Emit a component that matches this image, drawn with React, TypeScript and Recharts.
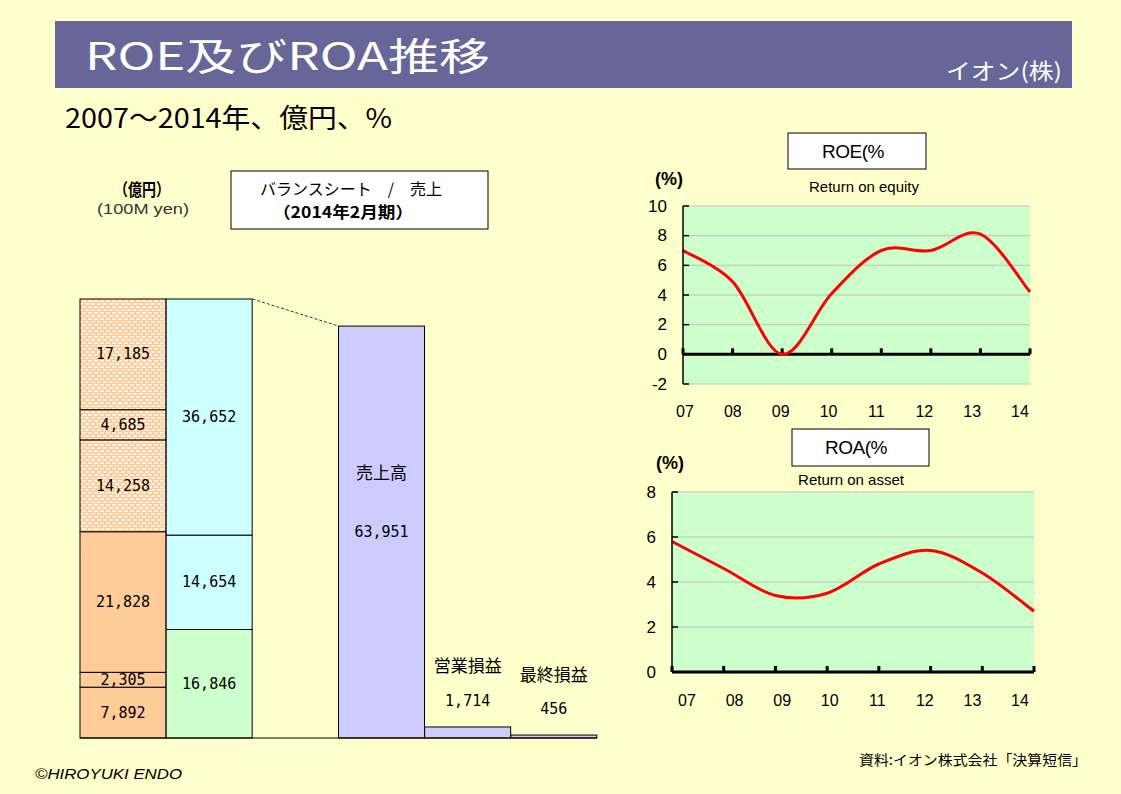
import React from 'react';
import { BarChart, Bar, XAxis, YAxis, LineChart, Line, CartesianGrid, ReferenceLine } from 'recharts';

// ---------- data ----------
const bsCategories = ['資産', '負債・純資産', 'gap', '売上高', '営業損益', '最終損益'];
const assetValues = [7892, 2305, 21828, 14258, 4685, 17185]; // bottom -> top
const assetPatterned = [false, false, false, true, true, true];
const liabilityValues = [16846, 14654, 36652]; // bottom -> top
const liabilityColors = ['#CCFFCC', '#CCFFFF', '#CCFFFF'];
const incomeLabels = ['売上高', '営業損益', '最終損益'];
const incomeValues = [63951, 1714, 456];

const years = ['07', '08', '09', '10', '11', '12', '13', '14'];
const roeValues = [7.0, 4.9, 0.0, 4.1, 7.0, 7.0, 8.1, 4.2];
const roaValues = [5.8, 4.6, 3.4, 3.5, 4.8, 5.4, 4.4, 2.7];
const roeTicks = [-2, 0, 2, 4, 6, 8, 10];
const roaTicks = [0, 2, 4, 6, 8];

const liabTotal = liabilityValues.reduce((s, v) => s + v, 0);

const bsData = bsCategories.map((name, ci) => {
  const row: any = { name };
  if (ci === 0) assetValues.forEach((v, i) => (row[`a${i}`] = v));
  if (ci === 1) liabilityValues.forEach((v, i) => (row[`l${i}`] = v));
  const k = incomeLabels.indexOf(name);
  if (k >= 0) {
    row.income = incomeValues[k];
    row.label = incomeLabels[k];
  }
  return row;
});

const roeData = years.map((year, i) => ({ year, v: roeValues[i] }));
const roaData = years.map((year, i) => ({ year, v: roaValues[i] }));

// ---------- helpers ----------
const JP = '"Noto Sans CJK JP", sans-serif';
const LAT = '"Liberation Sans", Arial, sans-serif';
const MONO = '"DejaVu Sans Mono", monospace';

// Catmull-Rom style smoothing (like spreadsheet "smoothed line")
function smoothCurve(context: any) {
  let pts: number[][] = [];
  return {
    areaStart() {},
    areaEnd() {},
    lineStart() {
      pts = [];
    },
    lineEnd() {
      const n = pts.length;
      if (!n) return;
      context.moveTo(pts[0][0], pts[0][1]);
      for (let i = 0; i < n - 1; i++) {
        const p0 = pts[Math.max(i - 1, 0)];
        const p1 = pts[i];
        const p2 = pts[i + 1];
        const p3 = pts[Math.min(i + 2, n - 1)];
        context.bezierCurveTo(
          p1[0] + (p2[0] - p0[0]) / 6,
          p1[1] + (p2[1] - p0[1]) / 6,
          p2[0] - (p3[0] - p1[0]) / 6,
          p2[1] - (p3[1] - p1[1]) / 6,
          p2[0],
          p2[1]
        );
      }
    },
    point(x: number, y: number) {
      pts.push([+x, +y]);
    },
  };
}

const segmentShape = (key: string, fill: string) => (props: any) => {
  const { x, y, width, height, payload } = props;
  const v = payload ? payload[key] : undefined;
  if (v == null || !width) return <g />;
  return (
    <g>
      <rect x={x} y={y} width={width} height={height} fill={fill} stroke="#000" strokeWidth={1} />
      <text
        x={x + width / 2}
        y={y + height / 2}
        textAnchor="middle"
        dominantBaseline="central"
        fontFamily={MONO}
        fontSize={15}
        fill="#000"
      >
        {v.toLocaleString('en-US')}
      </text>
    </g>
  );
};

const incomeShape = (props: any) => {
  const { x, y, width, height, payload } = props;
  const v = payload ? payload.income : undefined;
  if (v == null || !width) return <g />;
  const cx = x + width / 2;
  const isMain = payload.label === incomeLabels[0];
  const bottom = y + height;
  const yTotal = bottom - liabTotal * (height / v);
  return (
    <g>
      <rect x={x} y={y} width={width} height={height} fill="#CCCCFF" stroke="#000" strokeWidth={1} />
      {isMain ? (
        <g>
          <line x1={x - width} y1={yTotal} x2={x} y2={y} stroke="#333" strokeDasharray="3 2" strokeWidth={1} />
          <text x={cx} y={y + height / 2 - 61} textAnchor="middle" dominantBaseline="central" fontFamily={JP} fontSize={17} fill="#000">
            {payload.label}
          </text>
          <text x={cx} y={y + height / 2} textAnchor="middle" dominantBaseline="central" fontFamily={MONO} fontSize={15} fill="#000">
            {v.toLocaleString('en-US')}
          </text>
        </g>
      ) : (
        <g>
          <text x={cx} y={y - 62} textAnchor="middle" dominantBaseline="central" fontFamily={JP} fontSize={17} fill="#000">
            {payload.label}
          </text>
          <text x={cx} y={y - 26} textAnchor="middle" dominantBaseline="central" fontFamily={MONO} fontSize={15} fill="#000">
            {v.toLocaleString('en-US')}
          </text>
        </g>
      )}
    </g>
  );
};

const YTick = (props: any) => {
  const { x, y, payload } = props;
  return (
    <g>
      <text x={x - 16} y={y} textAnchor="end" dominantBaseline="central" fontFamily={LAT} fontSize={17} fill="#000">
        {payload.value}
      </text>
      <line x1={x} x2={x + 6} y1={y} y2={y} stroke="#000" strokeWidth={1.5} />
    </g>
  );
};

const ZeroTick = (props: any) => {
  const { x1, y1 } = props;
  if (x1 == null || y1 == null) return <g />;
  return <rect x={x1 - 1.5} y={y1 - 6} width={3} height={6} fill="#000" />;
};

function RatioChart(props: {
  data: any[];
  ticks: number[];
  domain: [number, number];
  width: number;
  height: number;
  labelPadding: { left: number; right: number };
  labelMargin: number;
}) {
  const { data, ticks, domain, width, height, labelPadding, labelMargin } = props;
  return (
    <LineChart width={width} height={height} data={data} margin={{ top: 10, right: 5, bottom: 0, left: 0 }}>
      <CartesianGrid vertical={false} stroke="#C0C0C0" fill="#CCFFCC" />
      <XAxis dataKey="year" hide height={0} />
      <XAxis
        xAxisId="lbl"
        dataKey="year"
        padding={labelPadding}
        axisLine={false}
        tickLine={false}
        tickSize={0}
        tickMargin={labelMargin}
        height={40}
        interval={0}
        tick={{ fontSize: 16, fill: '#000', fontFamily: LAT }}
      />
      <YAxis
        width={40}
        domain={domain}
        ticks={ticks}
        interval={0}
        axisLine={{ stroke: '#000', strokeWidth: 1.5 }}
        tickLine={false}
        tickSize={0}
        tickMargin={0}
        tick={<YTick />}
      />
      <ReferenceLine y={0} stroke="#000" strokeWidth={3} />
      {years.map((yr) => (
        <ReferenceLine
          key={yr}
          segment={[
            { x: yr, y: 0 },
            { x: yr, y: 0 },
          ]}
          shape={ZeroTick}
        />
      ))}
      <Line
        dataKey="v"
        stroke="#FF0000"
        strokeWidth={3}
        dot={false}
        activeDot={false}
        type={smoothCurve as any}
        isAnimationActive={false}
      />
    </LineChart>
  );
}

export default function App() {
  return (
    <div
      style={{
        position: 'absolute',
        left: 0,
        top: 0,
        width: 1121,
        height: 794,
        background: '#FFFFCC',
        overflow: 'hidden',
      }}
    >
      <svg width={1121} height={794} style={{ position: 'absolute', left: 0, top: 0 }}>
        <defs>
          <pattern id="dots" width={6} height={6} patternUnits="userSpaceOnUse">
            <rect x={0} y={0} width={6} height={6} fill="#FFCC99" />
            <rect x={0} y={0} width={4} height={2} fill="#FFF2E2" />
            <rect x={3} y={3} width={3} height={2} fill="#FFF2E2" />
            <rect x={0} y={3} width={1} height={2} fill="#FFF2E2" />
          </pattern>
        </defs>
        {/* title bar */}
        <rect x={55} y={21} width={1017} height={67} fill="#666699" />
        <text x={85} y={70} fontFamily={JP} fontSize={38} fill="#fff" textLength={405} lengthAdjust="spacingAndGlyphs">
          ROE及びROA推移
        </text>
        <text x={946} y={79} fontFamily={JP} fontSize={22} fill="#fff" textLength={116} lengthAdjust="spacingAndGlyphs">
          イオン(株)
        </text>
        <text x={65} y={128} fontFamily={JP} fontSize={27} fill="#000" textLength={327} lengthAdjust="spacingAndGlyphs">
          2007～2014年、億円、%
        </text>

        {/* left chart headers */}
        <text x={142} y={188} textAnchor="middle" dominantBaseline="central" fontFamily={JP} fontSize={17} fontWeight="bold" fill="#000" textLength={56} lengthAdjust="spacingAndGlyphs">
          （億円）
        </text>
        <text x={143} y={209} textAnchor="middle" dominantBaseline="central" fontFamily={LAT} fontSize={14} fill="#333" textLength={92} lengthAdjust="spacingAndGlyphs">
          (100M yen)
        </text>
        <rect x={231} y={171} width={257} height={58} fill="#fff" stroke="#000" strokeWidth={1} />
        <text x={351} y={188} textAnchor="middle" dominantBaseline="central" fontFamily={JP} fontSize={16} fill="#000" textLength={182} lengthAdjust="spacingAndGlyphs" style={{ whiteSpace: 'pre' }}>
          {'バランスシート　/　売上'}
        </text>
        <text x={343} y={211} textAnchor="middle" dominantBaseline="central" fontFamily={JP} fontSize={16} fontWeight="bold" fill="#000" textLength={140} lengthAdjust="spacingAndGlyphs">
          （2014年2月期）
        </text>

        {/* ROE headers */}
        <rect x={788} y={133} width={138} height={36} fill="#fff" stroke="#000" strokeWidth={1} />
        <text x={853} y={151} textAnchor="middle" dominantBaseline="central" fontFamily={LAT} fontSize={19} fill="#000" letterSpacing={-0.5}>
          ROE(%
        </text>
        <text x={669} y={179} textAnchor="middle" dominantBaseline="central" fontFamily={LAT} fontSize={18} fontWeight="bold" fill="#000">
          (%)
        </text>
        <text x={864} y={186} textAnchor="middle" dominantBaseline="central" fontFamily={LAT} fontSize={15} fill="#000">
          Return on equity
        </text>

        {/* ROA headers */}
        <rect x={792} y={429} width={137} height={37} fill="#fff" stroke="#000" strokeWidth={1} />
        <text x={856} y={447} textAnchor="middle" dominantBaseline="central" fontFamily={LAT} fontSize={19} fill="#000" letterSpacing={-0.5}>
          ROA(%
        </text>
        <text x={670} y={463} textAnchor="middle" dominantBaseline="central" fontFamily={LAT} fontSize={18} fontWeight="bold" fill="#000">
          (%)
        </text>
        <text x={851} y={479} textAnchor="middle" dominantBaseline="central" fontFamily={LAT} fontSize={15} fill="#000">
          Return on asset
        </text>

        {/* footer */}
        <text x={35} y={773} dominantBaseline="central" fontFamily={LAT} fontSize={15} fontStyle="italic" fill="#000" textLength={147} lengthAdjust="spacingAndGlyphs">
          ©HIROYUKI ENDO
        </text>
        <text x={859} y={759} dominantBaseline="central" fontFamily={JP} fontSize={14} fill="#000" textLength={228} lengthAdjust="spacingAndGlyphs">
          資料:イオン株式会社「決算短信」
        </text>
      </svg>

      {/* balance sheet / sales chart */}
      <div style={{ position: 'absolute', left: 79, top: 297 }}>
        <BarChart
          width={519}
          height={442}
          data={bsData}
          margin={{ top: 2, right: 1, bottom: 0, left: 1 }}
          barCategoryGap={0}
          barGap={0}
        >
          <XAxis dataKey="name" tick={false} tickLine={false} axisLine={{ stroke: '#000' }} height={1} />
          <YAxis hide domain={[0, 'dataMax']} />
          {assetValues.map((_, i) => (
            <Bar
              key={`a${i}`}
              dataKey={`a${i}`}
              stackId="s"
              isAnimationActive={false}
              fill={assetPatterned[i] ? 'url(#dots)' : '#FFCC99'}
              shape={segmentShape(`a${i}`, assetPatterned[i] ? 'url(#dots)' : '#FFCC99')}
            />
          ))}
          {liabilityValues.map((_, i) => (
            <Bar
              key={`l${i}`}
              dataKey={`l${i}`}
              stackId="s"
              isAnimationActive={false}
              fill={liabilityColors[i]}
              shape={segmentShape(`l${i}`, liabilityColors[i])}
            />
          ))}
          <Bar dataKey="income" stackId="s" isAnimationActive={false} fill="#CCCCFF" shape={incomeShape} />
        </BarChart>
      </div>

      {/* ROE chart */}
      <div style={{ position: 'absolute', left: 643, top: 196 }}>
        <RatioChart
          data={roeData}
          ticks={roeTicks}
          domain={[-2, 10]}
          width={392}
          height={228}
          labelPadding={{ left: 2, right: 10 }}
          labelMargin={22}
        />
      </div>

      {/* ROA chart */}
      <div style={{ position: 'absolute', left: 632, top: 482 }}>
        <RatioChart
          data={roaData}
          ticks={roaTicks}
          domain={[0, 8]}
          width={407}
          height={230}
          labelPadding={{ left: 15, right: 14 }}
          labelMargin={23}
        />
      </div>
    </div>
  );
}
